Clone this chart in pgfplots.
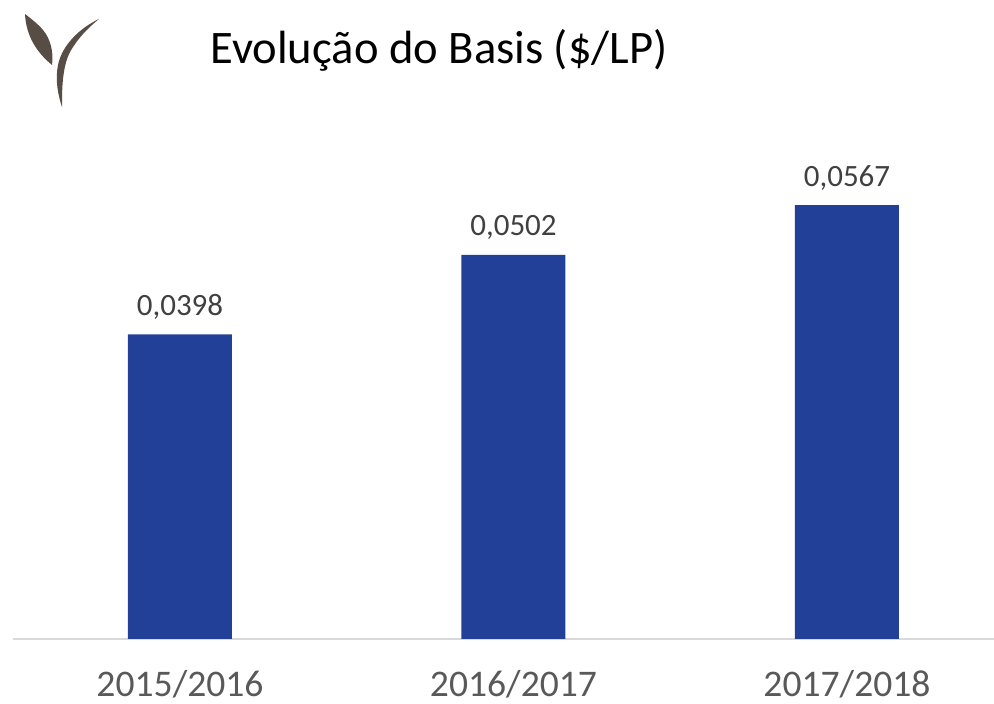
\documentclass[border=0pt]{standalone}
\usepackage{fontspec}
\setmainfont{Carlito}
\usepackage{pgfplots}
\pgfplotsset{compat=1.18}
\definecolor{barblue}{RGB}{35,64,153}
\definecolor{leaf}{RGB}{87,77,68}
\definecolor{labgray}{RGB}{64,64,64}
\definecolor{tickgray}{RGB}{89,89,89}
\definecolor{basegray}{RGB}{217,217,217}
\begin{document}
\begin{tikzpicture}
\useasboundingbox (0,-32.5pt) rectangle (497pt,319.5pt);
\begin{axis}[
  at={(0,0)}, anchor=south west,
  scale only axis,
  width=497pt, height=319.5pt,
  xmin=-0.5397, xmax=2.4409,
  ymin=0, ymax=0.0835,
  axis line style={draw=none},
  major tick length=0pt,
  ytick=\empty,
  xtick={0,1,2},
  xticklabels={2015/2016,2016/2017,2017/2018},
  xticklabel style={font=\fontsize{18.8}{21}\selectfont, text=tickgray, inner sep=0pt, yshift=-15.5pt},
  ybar, bar width=52pt,
  clip=false,
  nodes near coords,
  point meta=y,
  every node near coord/.append style={font=\fontsize{15.5}{18}\selectfont, text=labgray, yshift=4pt,
    /pgf/number format/.cd, fixed, fixed zerofill, precision=4, use comma, assume math mode=true},
]
\draw[basegray, line width=1pt] (axis cs:-0.5,0) -- (axis cs:2.4409,0);
\addplot[fill=barblue, draw=none] coordinates {(0,0.0398) (1,0.0502) (2,0.0567)};
\end{axis}
\begin{scope}[x=0.5pt, y=-0.5pt, shift={(0pt,319.5pt)}]
  \node[anchor=base west, inner sep=0pt, font=\fontsize{23.3}{26}\selectfont] at (210,64) {Evolução do Basis (\$/LP)};
  \fill[leaf] (25,14) .. controls (26,35) and (36,52) .. (52,65)
     .. controls (54,52) and (50,38) .. (43,30) .. controls (37,23) and (30,18) .. (25,14) -- cycle;
  \fill[leaf] (99,19) .. controls (80,28) and (62,45) .. (58,65)
     .. controls (55,80) and (58,95) .. (62,107)
     .. controls (62,90) and (62,68) .. (70,52) .. controls (78,38) and (88,28) .. (99,19) -- cycle;
\end{scope}
\end{tikzpicture}
\end{document}
